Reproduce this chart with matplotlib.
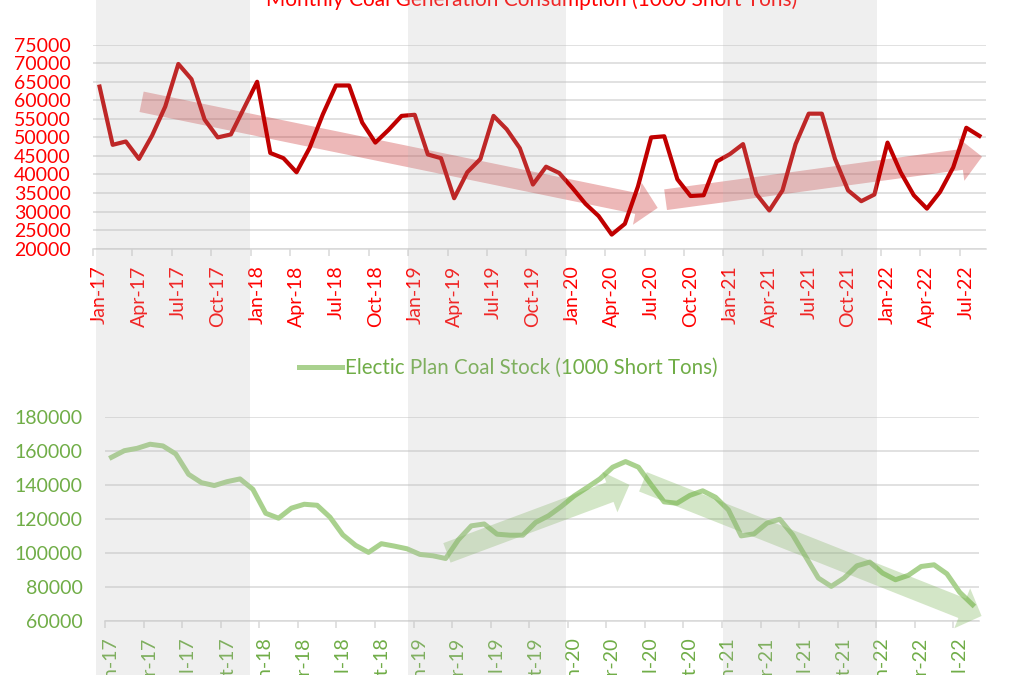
import numpy as np
import pandas as pd
import matplotlib
matplotlib.use('Agg')
import matplotlib.pyplot as plt
import matplotlib.transforms as mtransforms
from matplotlib.patches import Rectangle

plt.rcParams['font.family'] = ['Lato', 'DejaVu Sans']

# month categories Jan-17 .. Aug-22
months = pd.date_range('2017-01-01', periods=68, freq='MS').strftime('%b-%y').tolist()

# monthly coal consumption for generation (1000 short tons)
coal_consumption = [63700, 48000, 48900, 44200, 50500, 58300, 69800, 65700, 54800, 50000,
                    50800, 57900, 65000, 45800, 44400, 40600, 47200, 56200, 64000, 64000,
                    54000, 48600, 52000, 55800, 56100, 45400, 44400, 33600, 40600, 44200,
                    55800, 52200, 47100, 37300, 42100, 40400, 36400, 32100, 28800, 23800,
                    26700, 36800, 50000, 50300, 38700, 34200, 34400, 43500, 45500, 48200,
                    34800, 30300, 35700, 48200, 56400, 56400, 44200, 35700, 32800, 34600,
                    48600, 40600, 34400, 30800, 35300, 41900, 52600, 50400]

# electric power coal stock (1000 short tons)
coal_stock = [156100, 160000, 161400, 163800, 162800, 158100, 146100, 141200, 139500, 141800,
              143400, 137300, 123200, 120300, 126200, 128500, 127900, 120900, 110500, 104300,
              100200, 105300, 103900, 102300, 99000, 98200, 96600, 107700, 115800, 116900,
              110900, 110300, 110300, 117800, 121700, 127200, 133400, 138300, 143400, 150300,
              153600, 150300, 139900, 129900, 129100, 133700, 136400, 132600, 125200, 109900,
              111100, 117400, 119700, 110500, 97800, 85100, 80200, 85100, 92300, 94500,
              88000, 84100, 86700, 91900, 92900, 87600, 76700, 69400]

cons_ticks = list(range(20000, 75001, 5000))
stock_ticks = list(range(60000, 180001, 20000))

# grey year bands (2017, 2019, 2021) in month positions
year_bands = [(-0.25, 11.45), (23.45, 35.5), (47.5, 59.2)]

# trend arrows: (tail, tip) in data units
cons_arrows = [((3.2, 59600), (42.5, 31000)), ((43.1, 33200), (67.2, 44800))]
stock_arrows = [((26.1, 99900), (40.3, 139900)), ((41.35, 141700), (67.7, 62800))]

RED = '#C00000'
RED_TXT = '#FF0000'
GREEN = '#A9D18E'
GREEN_TXT = '#70AD47'
GRID = '#D9D9D9'

x = np.arange(len(months))

fig = plt.figure(figsize=(10.14, 6.75), dpi=100)
ax1 = fig.add_axes([0.0917, 0.6316, 0.8807, 0.3022])
ax2 = fig.add_axes([0.1036, 0.0804, 0.8619, 0.3023])


def style(ax, ticks, color):
    ax.set_facecolor('none')
    ax.set_xlim(-0.5, len(months) - 0.5)
    ax.set_ylim(ticks[0], ticks[-1])
    ax.set_yticks(ticks)
    ax.set_yticklabels([str(t) for t in ticks])
    ax.set_xticks(x[::3])
    ax.set_xticklabels(months[::3], rotation=90)
    ax.set_xticks(np.arange(-0.5, len(months) - 2, 3), minor=True)
    ax.tick_params(axis='x', which='major', length=0, pad=12, labelsize=14, labelcolor=color)
    ax.tick_params(axis='x', which='minor', length=5, width=1.1, color=GRID)
    ax.tick_params(axis='y', length=0, pad=16, labelsize=14, labelcolor=color)
    ax.grid(axis='y', color=GRID, lw=1.1)
    ax.set_axisbelow(True)
    for s in ['top', 'right', 'left']:
        ax.spines[s].set_visible(False)
    ax.spines['bottom'].set_color(GRID)
    ax.spines['bottom'].set_linewidth(1.1)


def trend(ax, arrows, color, alpha):
    for tail, tip in arrows:
        ax.annotate('', xy=tip, xytext=tail, xycoords='data', annotation_clip=False,
                    arrowprops=dict(arrowstyle='simple,head_length=1.5,head_width=3.1,tail_width=1.5',
                                    mutation_scale=10, fc=color, ec='none', alpha=alpha,
                                    shrinkA=0, shrinkB=0), zorder=4)


# top chart: consumption
style(ax1, cons_ticks, RED_TXT)
ax1.plot(x, coal_consumption, color=RED, lw=3, zorder=3)
trend(ax1, cons_arrows, RED, 0.28)
fig.text(0.524, 0.991, 'Monthly Coal Generation Consumption (1000 Short Tons)',
         color=RED_TXT, fontsize=15, ha='center', va='baseline')

# bottom chart: stock
style(ax2, stock_ticks, GREEN_TXT)
line2, = ax2.plot(x, coal_stock, color=GREEN, lw=3.6, zorder=3,
                  label='Electic Plan Coal Stock (1000 Short Tons)')
trend(ax2, stock_arrows, GREEN_TXT, 0.3)
ax2.legend(handles=[line2], loc='center', bbox_to_anchor=(0.5015, 0.4548),
           bbox_transform=fig.transFigure, frameon=False, fontsize=14.8,
           labelcolor=GREEN_TXT, handlelength=2.1, handletextpad=0.15)

# translucent year bands over the whole figure
trans = mtransforms.blended_transform_factory(ax1.transData, fig.transFigure)
for a, b in year_bands:
    fig.add_artist(Rectangle((a, 0), b - a, 1, transform=trans, facecolor='#B9B9B9',
                             alpha=0.216, lw=0, zorder=5))

fig.savefig('out.png', dpi=100)
